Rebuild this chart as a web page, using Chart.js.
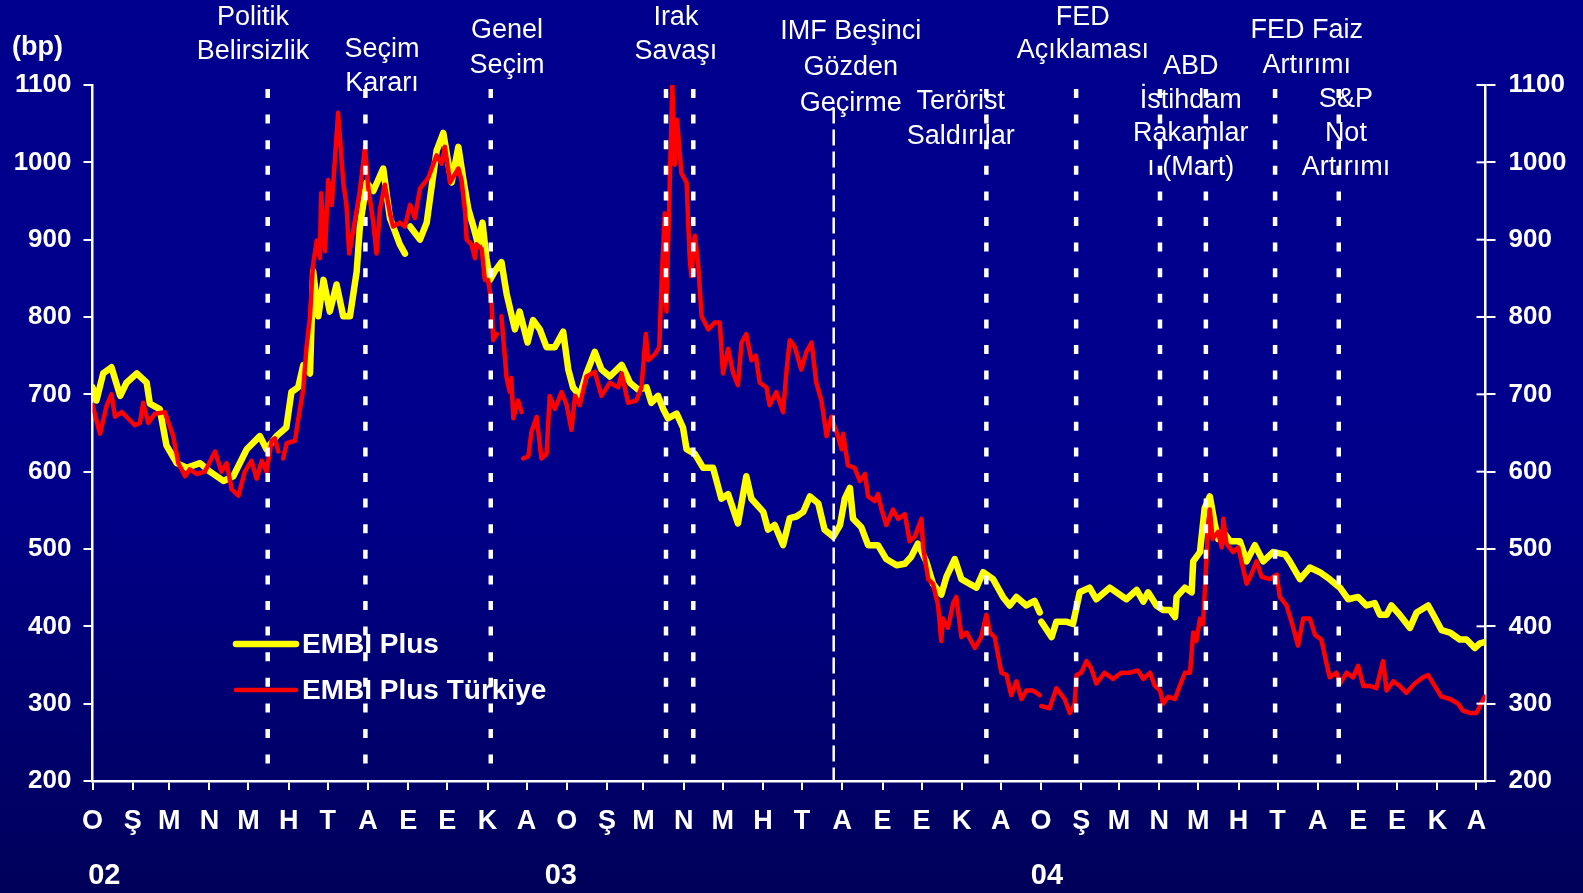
<!DOCTYPE html>
<html>
<head>
<meta charset="utf-8">
<title>EMBI Plus ve EMBI Plus Türkiye</title>
<script src="https://cdn.jsdelivr.net/npm/chart.js@4.4.1/dist/chart.umd.min.js"></script>
<style>
  html, body { margin: 0; padding: 0; }
  body {
    width: 1583px; height: 893px; overflow: hidden;
    background: linear-gradient(to bottom, #00008e 0%, #00008b 55%, #00005a 100%);
  }
</style>
</head>
<body>
<canvas id="spreadChart" width="1583" height="893"></canvas>
<script>
// Time is in months from January 2002 (0 = start of Jan 2002)
// EMBI Plus spread (bp)
const embiMonths = [
  0.00, 0.10, 0.27, 0.48, 0.70, 0.86, 1.12, 1.37, 1.45, 1.70, 1.87, 2.13, 2.38, 2.72, 2.97, 3.31, 3.56, 3.90,
  4.23, 4.40, 4.65, 4.90, 5.03, 5.20, 5.33, 5.50, 5.58, 5.71, 5.84, 6.00, 6.17, 6.34, 6.51, 6.68, 6.76, 6.93,
  7.10, 7.35, 7.52, 7.77, 7.90, 7.96, 8.03, 8.28, 8.45, 8.70, 8.87, 9.08, 9.25, 9.37, 9.50, 9.63, 9.75, 9.86,
  9.96, 10.05, 10.17, 10.34, 10.47, 10.68, 10.80, 11.00, 11.14, 11.31, 11.48, 11.69, 11.90, 12.03, 12.15, 12.32,
  12.49, 12.70, 12.87, 13.08, 13.38, 13.59, 13.80, 14.01, 14.13, 14.30, 14.43, 14.55, 14.77, 14.93, 15.02, 15.23,
  15.44, 15.69, 15.90, 16.07, 16.32, 16.45, 16.53, 16.66, 16.96, 17.08, 17.25, 17.46, 17.63, 17.80, 17.97, 18.14,
  18.35, 18.51, 18.73, 18.90, 19.02, 19.15, 19.23, 19.44, 19.61, 19.86, 20.07, 20.33, 20.54, 20.70, 20.87, 21.08,
  21.25, 21.46, 21.59, 21.80, 21.97, 22.18, 22.35, 22.52, 22.77, 23.02, 23.19, 23.36, 23.61, 23.82, 23.95, 23.97,
  23.99, 24.25, 24.37, 24.62, 24.79, 24.96, 25.21, 25.38, 25.72, 26.14, 26.40, 26.57, 26.69, 26.90, 27.07, 27.24,
  27.37, 27.41, 27.62, 27.79, 27.83, 28.00, 28.12, 28.25, 28.38, 28.46, 28.59, 28.76, 29.01, 29.18, 29.39, 29.60,
  29.85, 30.15, 30.27, 30.53, 30.78, 31.03, 31.28, 31.54, 31.75, 32.00, 32.21, 32.42, 32.55, 32.72, 32.84, 33.05,
  33.31, 33.48, 33.77, 33.90, 34.11, 34.32, 34.57, 34.74, 34.95, 35.08, 35.22
];
const embiValues = [
  709, 692, 727, 735, 698, 715, 727, 715, 688, 681, 634, 611, 605, 611, 600, 588, 594, 629,
  646, 629, 646, 657, 703, 709, 738, 727, 859, 801, 848, 807, 842, 801, 801, 859, 917, 974,
  963, 992, 928, 894, 882, null, 917, 900, 922, 1015, 1038, 974, 1020, 980, 940, 917, 894, 922,
  876, 848, 859, 871, 830, 784, 807, 767, 796, 784, 761, 761, 781, 732, 709, 698,
  727, 755, 732, 723, 738, 715, 706, 709, 689, 698, 681, 669, 675, 657, 629, 623,
  605, 605, 565, 571, 533, 571, 594, 565, 548, 525, 531, 505, 540, 542, 548, 568,
  559, 525, 516, 531, 565, 579, 539, 528, 505, 505, 487, 479, 481, 490, 507, 484,
  455, 441, 464, 487, 461, 455, 450, 470, 461, 438, 427, 438, 427, 433, 418, null,
  406, 386, 406, 406, 403, 444, 450, 435, 450, 435, 447, 432, 444, 427, 421, 421,
  412, 438, 450, 444, 484, 496, 553, 568, 531, 513, 522, 510, 510, 484, 505, 484,
  496, 493, 484, 461, 476, 470, 461, 450, 435, 438, 427, 430, 415, 415, 427, 415,
  398, 418, 427, 415, 395, 392, 383, 383, 372, 378, 380
];

// EMBI Plus Türkiye spread (bp)
const turkMonths = [
  0.00, 0.19, 0.36, 0.48, 0.57, 0.74, 0.86, 1.07, 1.20, 1.28, 1.41, 1.58, 1.83, 2.04, 2.17, 2.34, 2.46, 2.63,
  2.84, 3.10, 3.26, 3.39, 3.52, 3.69, 3.85, 4.02, 4.15, 4.28, 4.40, 4.53, 4.61, 4.70, 4.76, 4.82, 4.91, 5.12,
  5.20, 5.33, 5.41, 5.50, 5.57, 5.67, 5.75, 5.78, 5.88, 5.96, 6.05, 6.21, 6.34, 6.42, 6.49, 6.59, 6.76, 6.89,
  6.97, 7.10, 7.18, 7.27, 7.39, 7.52, 7.60, 7.77, 7.90, 8.03, 8.15, 8.28, 8.49, 8.70, 8.83, 8.91, 9.04, 9.25,
  9.33, 9.42, 9.46, 9.58, 9.67, 9.71, 9.84, 9.92, 10.00, 10.09, 10.13, 10.22, 10.28, 10.34, 10.47, 10.55, 10.59,
  10.64, 10.76, 10.85, 10.87, 10.89, 11.02, 11.10, 11.23, 11.35, 11.48, 11.56, 11.69, 11.86, 11.99, 12.11, 12.20,
  12.32, 12.49, 12.70, 12.87, 13.08, 13.29, 13.38, 13.54, 13.75, 13.88, 13.99, 14.05, 14.22, 14.33, 14.39, 14.47,
  14.51, 14.66, 14.72, 14.78, 14.89, 15.02, 15.10, 15.14, 15.23, 15.31, 15.40, 15.57, 15.73, 15.86, 15.94, 16.07,
  16.20, 16.32, 16.41, 16.53, 16.66, 16.77, 16.87, 17.04, 17.12, 17.29, 17.46, 17.55, 17.63, 17.76, 17.92, 18.05,
  18.18, 18.30, 18.43, 18.56, 18.68, 18.77, 18.85, 18.94, 18.98, 19.10, 19.27, 19.40, 19.53, 19.61, 19.78, 19.86,
  19.95, 20.07, 20.24, 20.37, 20.54, 20.66, 20.79, 20.96, 21.00, 21.13, 21.25, 21.38, 21.46, 21.50, 21.63, 21.76,
  21.84, 21.97, 22.10, 22.31, 22.47, 22.60, 22.69, 22.81, 22.98, 23.11, 23.23, 23.36, 23.49, 23.61, 23.78, 23.95,
  23.97, 23.99, 24.20, 24.37, 24.58, 24.71, 24.83, 24.88, 25.00, 25.13, 25.25, 25.38, 25.59, 25.80, 26.01, 26.22,
  26.43, 26.57, 26.74, 26.86, 26.99, 27.07, 27.20, 27.37, 27.49, 27.62, 27.75, 27.83, 27.91, 28.00, 28.08, 28.15,
  28.21, 28.25, 28.32, 28.46, 28.55, 28.59, 28.67, 28.84, 28.97, 29.18, 29.30, 29.43, 29.56, 29.77, 29.94, 30.02,
  30.19, 30.36, 30.48, 30.61, 30.78, 30.91, 31.07, 31.20, 31.28, 31.45, 31.54, 31.71, 31.87, 32.00, 32.13, 32.30,
  32.46, 32.63, 32.72, 32.89, 33.05, 33.22, 33.43, 33.64, 33.77, 33.90, 34.11, 34.32, 34.53, 34.65, 34.82, 34.99,
  35.08, 35.20
];
const turkValues = [
  686, 649, 686, 700, 671, 677, 671, 660, 663, 689, 663, 675, 677, 646, 611, 594, 603, 597,
  600, 626, 600, 611, 577, 569, 600, 614, 591, 614, 600, 640, 643, 626, null, 617, 637, 640,
  667, 707, 761, 801, 865, 899, 876, 960, 885, 977, 945, 1064, 974, 945, 882, 911, 963, 1020,
  968, 922, 882, 940, 971, 934, 917, 922, 917, 945, 928, 966, 980, 1009, 998, 1020, 974, 992,
  977, 937, 900, 894, 876, 894, 888, 848, 848, 819, 770, 778, null, 801, 721, 703, 721,
  669, 692, 677, null, 617, 620, 652, 671, 617, 623, 698, 681, 703, 686, 654, 698,
  686, 723, 729, 698, 715, 709, 727, 689, 692, 709, 778, 744, 752, 761, 848, 934,
  807, 1100, 997, 1055, 986, 974, 876, 853, 905, 871, 801, 784, 793, 793, 727, 759,
  727, 712, 767, 778, 744, 750, 715, 709, 686, 703, 677, 732, 770, 761, 732, 755,
  767, 715, 692, 646, 671, 657, 646, 629, 649, 608, 605, 588, 597, 568, 562, 571,
  551, 531, 551, 539, 545, 510, 516, 539, 502, 461, 455, 427, 381, 410, 398, 430,
  438, 386, 392, 372, 386, 415, 392, 386, 340, 337, 311, 329, 306, 317, 317, 311,
  null, 297, 294, 320, 306, 288, 300, 337, 340, 355, 346, 326, 340, 332, 340, 340,
  343, 332, 340, 323, 317, 300, 309, 306, 323, 340, 340, 392, 381, 410, 403, 473,
  531, 551, 513, 522, 502, 539, 507, 496, 502, 455, 467, 484, 464, 461, 467, 438,
  427, 398, 375, 410, 410, 389, 383, 352, 334, 340, 326, 340, 334, 349, 323, 323,
  320, 355, 317, 329, 323, 314, 326, 334, 337, 326, 309, 306, 300, 291, 288, 288,
  297, 309
];

// Month initials (Turkish) and year labels under the axis
const monthLetters = ['O', 'Ş', 'M', 'N', 'M', 'H', 'T', 'A', 'E', 'E', 'K', 'A'];
const yearLabels = ['02', '03', '04'];
const yearMonths = [0.3, 11.84, 24.13];

// Events marked by vertical lines
const eventMonths = [4.43, 6.9, 10.07, 14.5, 15.19, 18.74, 22.6, 24.87, 26.99, 28.15, 29.9, 31.51];
const noteLines = [
  ['Politik', 'Belirsizlik'],
  ['Seçim', 'Kararı'],
  ['Genel', 'Seçim'],
  ['Irak', 'Savaşı'],
  ['IMF Beşinci', 'Gözden', 'Geçirme'],
  ['Terörist', 'Saldırılar'],
  ['FED', 'Açıklaması'],
  ['ABD', 'İstihdam', 'Rakamlar', 'ı (Mart)'],
  ['FED Faiz', 'Artırımı'],
  ['S&P', 'Not', 'Artırımı']
];
const noteMonths = [4.06, 7.32, 10.48, 14.75, 19.17, 21.95, 25.04, 27.77, 30.70, 31.69];

const seriesNames = ['EMBI Plus', 'EMBI Plus Türkiye'];

// ---- styling / layout ----
const FONT = "'Liberation Sans', Arial, Helvetica, sans-serif";
const WHITE = '#ffffff';
const YELLOW = '#ffff00';
const RED = '#ff0000';
const dashedEvent = 5;          // the IMF review line is dashed, others dotted
const noteTops = [17.5, 49.5, 30.5, 17.5, 31.5, 102, 17.5, 67, 30.5, 100];   // y of first text line (px)
const noteGap = [34, 34, 35, 34, 36, 35, 33, 33.5, 35, 34];

function pts(xs, ys) {
  return xs.map((x, i) => ({ x: x, y: ys[i] }));
}

// month starts on the axis, using real month lengths
const base = Date.UTC(2002, 0, 1);
const monthStarts = [];
for (let k = 0; k < 36; k++) {
  monthStarts.push((Date.UTC(2002, k, 1) - base) / 86400000 / 30.4375);
}

const eventSets = eventMonths.map((m, i) => ({
  label: 'event' + i,
  data: [{ x: m, y: i === dashedEvent ? 1071 : 1100 }, { x: m, y: 200 }],
  borderColor: WHITE,
  borderWidth: i === dashedEvent ? 2.5 : 4.5,
  borderDash: i === dashedEvent ? [16, 6] : [9, 16.6],
  borderDashOffset: i === dashedEvent ? 0 : -4,
  borderCapStyle: 'butt',
  pointRadius: 0,
  fill: false
}));

const textPlugin = {
  id: 'chartTexts',
  afterDraw(chart) {
    const ctx = chart.ctx;
    const xs = chart.scales.x;
    const yr = chart.scales.yRight;
    ctx.save();

    // right axis ticks also reach into the plot
    ctx.strokeStyle = WHITE;
    ctx.lineWidth = 2;
    yr.ticks.forEach(t => {
      const y = yr.getPixelForValue(t.value);
      ctx.beginPath();
      ctx.moveTo(yr.left - 9, y);
      ctx.lineTo(yr.left, y);
      ctx.stroke();
    });

    ctx.fillStyle = WHITE;

    // unit label
    ctx.font = 'bold 27px ' + FONT;
    ctx.textAlign = 'left';
    ctx.textBaseline = 'middle';
    ctx.fillText('(bp)', 12, 48);

    // event notes
    ctx.font = '27px ' + FONT;
    ctx.textAlign = 'center';
    noteLines.forEach((lines, i) => {
      const x = xs.getPixelForValue(noteMonths[i]);
      lines.forEach((t, j) => ctx.fillText(t, x, noteTops[i] + j * noteGap[i]));
    });

    // year labels
    ctx.font = 'bold 29px ' + FONT;
    yearLabels.forEach((t, i) => ctx.fillText(t, xs.getPixelForValue(yearMonths[i]), 876));

    // legend
    const legendColors = [YELLOW, RED];
    const legendWidths = [6.5, 4.5];
    const legendY = [644, 690];
    ctx.lineCap = 'round';
    seriesNames.forEach((name, i) => {
      ctx.strokeStyle = legendColors[i];
      ctx.lineWidth = legendWidths[i];
      ctx.beginPath();
      ctx.moveTo(236, legendY[i]);
      ctx.lineTo(296, legendY[i]);
      ctx.stroke();
      ctx.font = 'bold 28px ' + FONT;
      ctx.textAlign = 'left';
      ctx.fillText(name, 302, legendY[i] + 1);
    });
    ctx.restore();
  }
};

const xFont = { family: FONT, size: 27, weight: 'bold' };
const yFont = { family: FONT, size: 26, weight: 'bold' };

new Chart(document.getElementById('spreadChart').getContext('2d'), {
  type: 'line',
  data: {
    datasets: eventSets.concat([
      {
        label: seriesNames[1],
        data: pts(turkMonths, turkValues),
        borderColor: RED,
        borderWidth: 4.5,
        borderJoinStyle: 'round',
        borderCapStyle: 'round',
        pointRadius: 0,
        tension: 0,
        spanGaps: false
      },
      {
        label: seriesNames[0],
        data: pts(embiMonths, embiValues),
        borderColor: YELLOW,
        borderWidth: 6.5,
        borderJoinStyle: 'round',
        borderCapStyle: 'round',
        pointRadius: 0,
        tension: 0,
        spanGaps: false
      }
    ])
  },
  options: {
    responsive: false,
    animation: false,
    layout: { padding: { top: 85, left: 0, right: 0, bottom: 0 } },
    plugins: {
      legend: { display: false },
      tooltip: { enabled: false }
    },
    scales: {
      x: {
        type: 'linear',
        min: 0,
        max: 35.22,
        afterBuildTicks(scale) {
          scale.ticks = monthStarts.map(v => ({ value: v }));
        },
        afterFit(scale) { scale.height = 112; },
        ticks: {
          autoSkip: false,
          maxRotation: 0,
          color: WHITE,
          font: xFont,
          padding: 15,
          callback: (v, i) => monthLetters[i % 12]
        },
        grid: { drawOnChartArea: false, tickLength: 9, color: WHITE, lineWidth: 2 },
        border: { color: WHITE, width: 2.5 }
      },
      y: {
        position: 'left',
        min: 200,
        max: 1100,
        afterFit(scale) { scale.width = 92.5; },
        ticks: { stepSize: 100, color: WHITE, font: yFont, padding: 12, callback: v => String(v) },
        grid: { drawOnChartArea: false, tickLength: 9, color: WHITE, lineWidth: 2 },
        border: { color: WHITE, width: 2.5 }
      },
      yRight: {
        position: 'right',
        min: 200,
        max: 1100,
        afterFit(scale) { scale.width = 97.5; },
        ticks: { stepSize: 100, color: WHITE, font: yFont, padding: 13, callback: v => String(v) },
        grid: { drawOnChartArea: false, tickLength: 10, color: WHITE, lineWidth: 2 },
        border: { color: WHITE, width: 2.5 }
      }
    }
  },
  plugins: [textPlugin]
});
</script>
</body>
</html>
